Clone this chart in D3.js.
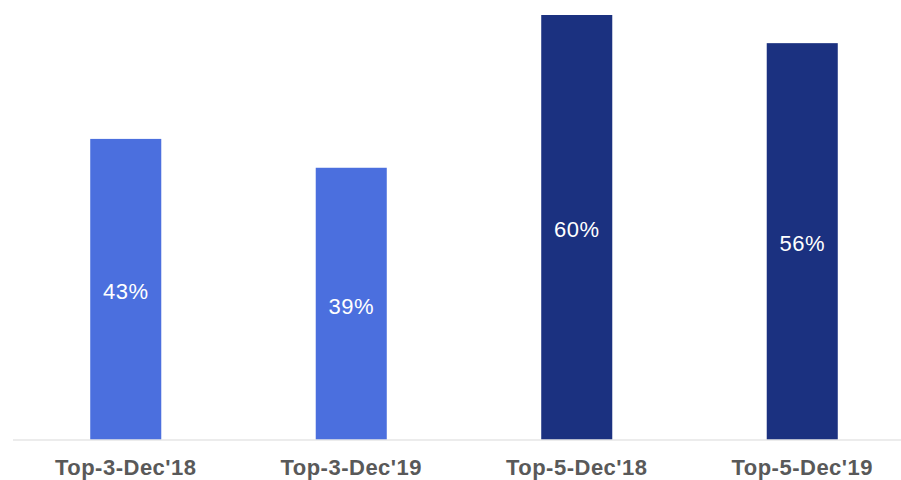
<!DOCTYPE html>
<meta charset="utf-8">
<style>
  body { margin: 0; background: #fff; }
  svg { display: block; }
</style>
<svg width="901" height="480"></svg>
<script src="https://d3js.org/d3.v7.min.js"></script>
<script>
// data
const categories = ["Top-3-Dec'18", "Top-3-Dec'19", "Top-5-Dec'18", "Top-5-Dec'19"];
const values = [42.7, 38.6, 60.3, 56.3];
const labels = ["43%", "39%", "60%", "56%"];
const barColors = ["#4b6fde", "#4b6fde", "#1b3180", "#1b3180"];

const svg = d3.select("svg");

const x = d3.scaleBand()
    .domain(categories)
    .range([13, 915])
    .paddingInner(0.685)
    .paddingOuter(0.3425);

const y = d3.scaleLinear()
    .domain([0, 60.3])
    .range([439.5, 15]);

const rows = categories.map((c, i) => ({ cat: c, v: values[i], label: labels[i], color: barColors[i] }));

// bars
svg.selectAll("rect.bar")
  .data(rows)
  .join("rect")
    .attr("class", "bar")
    .attr("x", d => x(d.cat))
    .attr("y", d => y(d.v))
    .attr("width", x.bandwidth())
    .attr("height", d => y(0) - y(d.v))
    .attr("fill", d => d.color);

// baseline
svg.append("line")
    .attr("x1", 13).attr("x2", 901)
    .attr("y1", y(0) + 0.5).attr("y2", y(0) + 0.5)
    .attr("stroke", "#d9d9d9")
    .attr("stroke-width", 1.2);

// value labels in the middle of the bars
svg.selectAll("text.val")
  .data(rows)
  .join("text")
    .attr("class", "val")
    .attr("x", d => x(d.cat) + x.bandwidth() / 2)
    .attr("y", d => (y(d.v) + y(0)) / 2 + 10)
    .attr("text-anchor", "middle")
    .attr("fill", "#fff")
    .style("font", "22px Arial, 'Liberation Sans', sans-serif")
    .style("letter-spacing", "0.5px")
    .text(d => d.label);

// category labels
svg.selectAll("text.cat")
  .data(rows)
  .join("text")
    .attr("class", "cat")
    .attr("x", d => x(d.cat) + x.bandwidth() / 2)
    .attr("y", 475)
    .attr("text-anchor", "middle")
    .attr("fill", "#595959")
    .style("font", "bold 22px Arial, 'Liberation Sans', sans-serif")
    .style("letter-spacing", "0.5px")
    .text(d => d.cat);
</script>
